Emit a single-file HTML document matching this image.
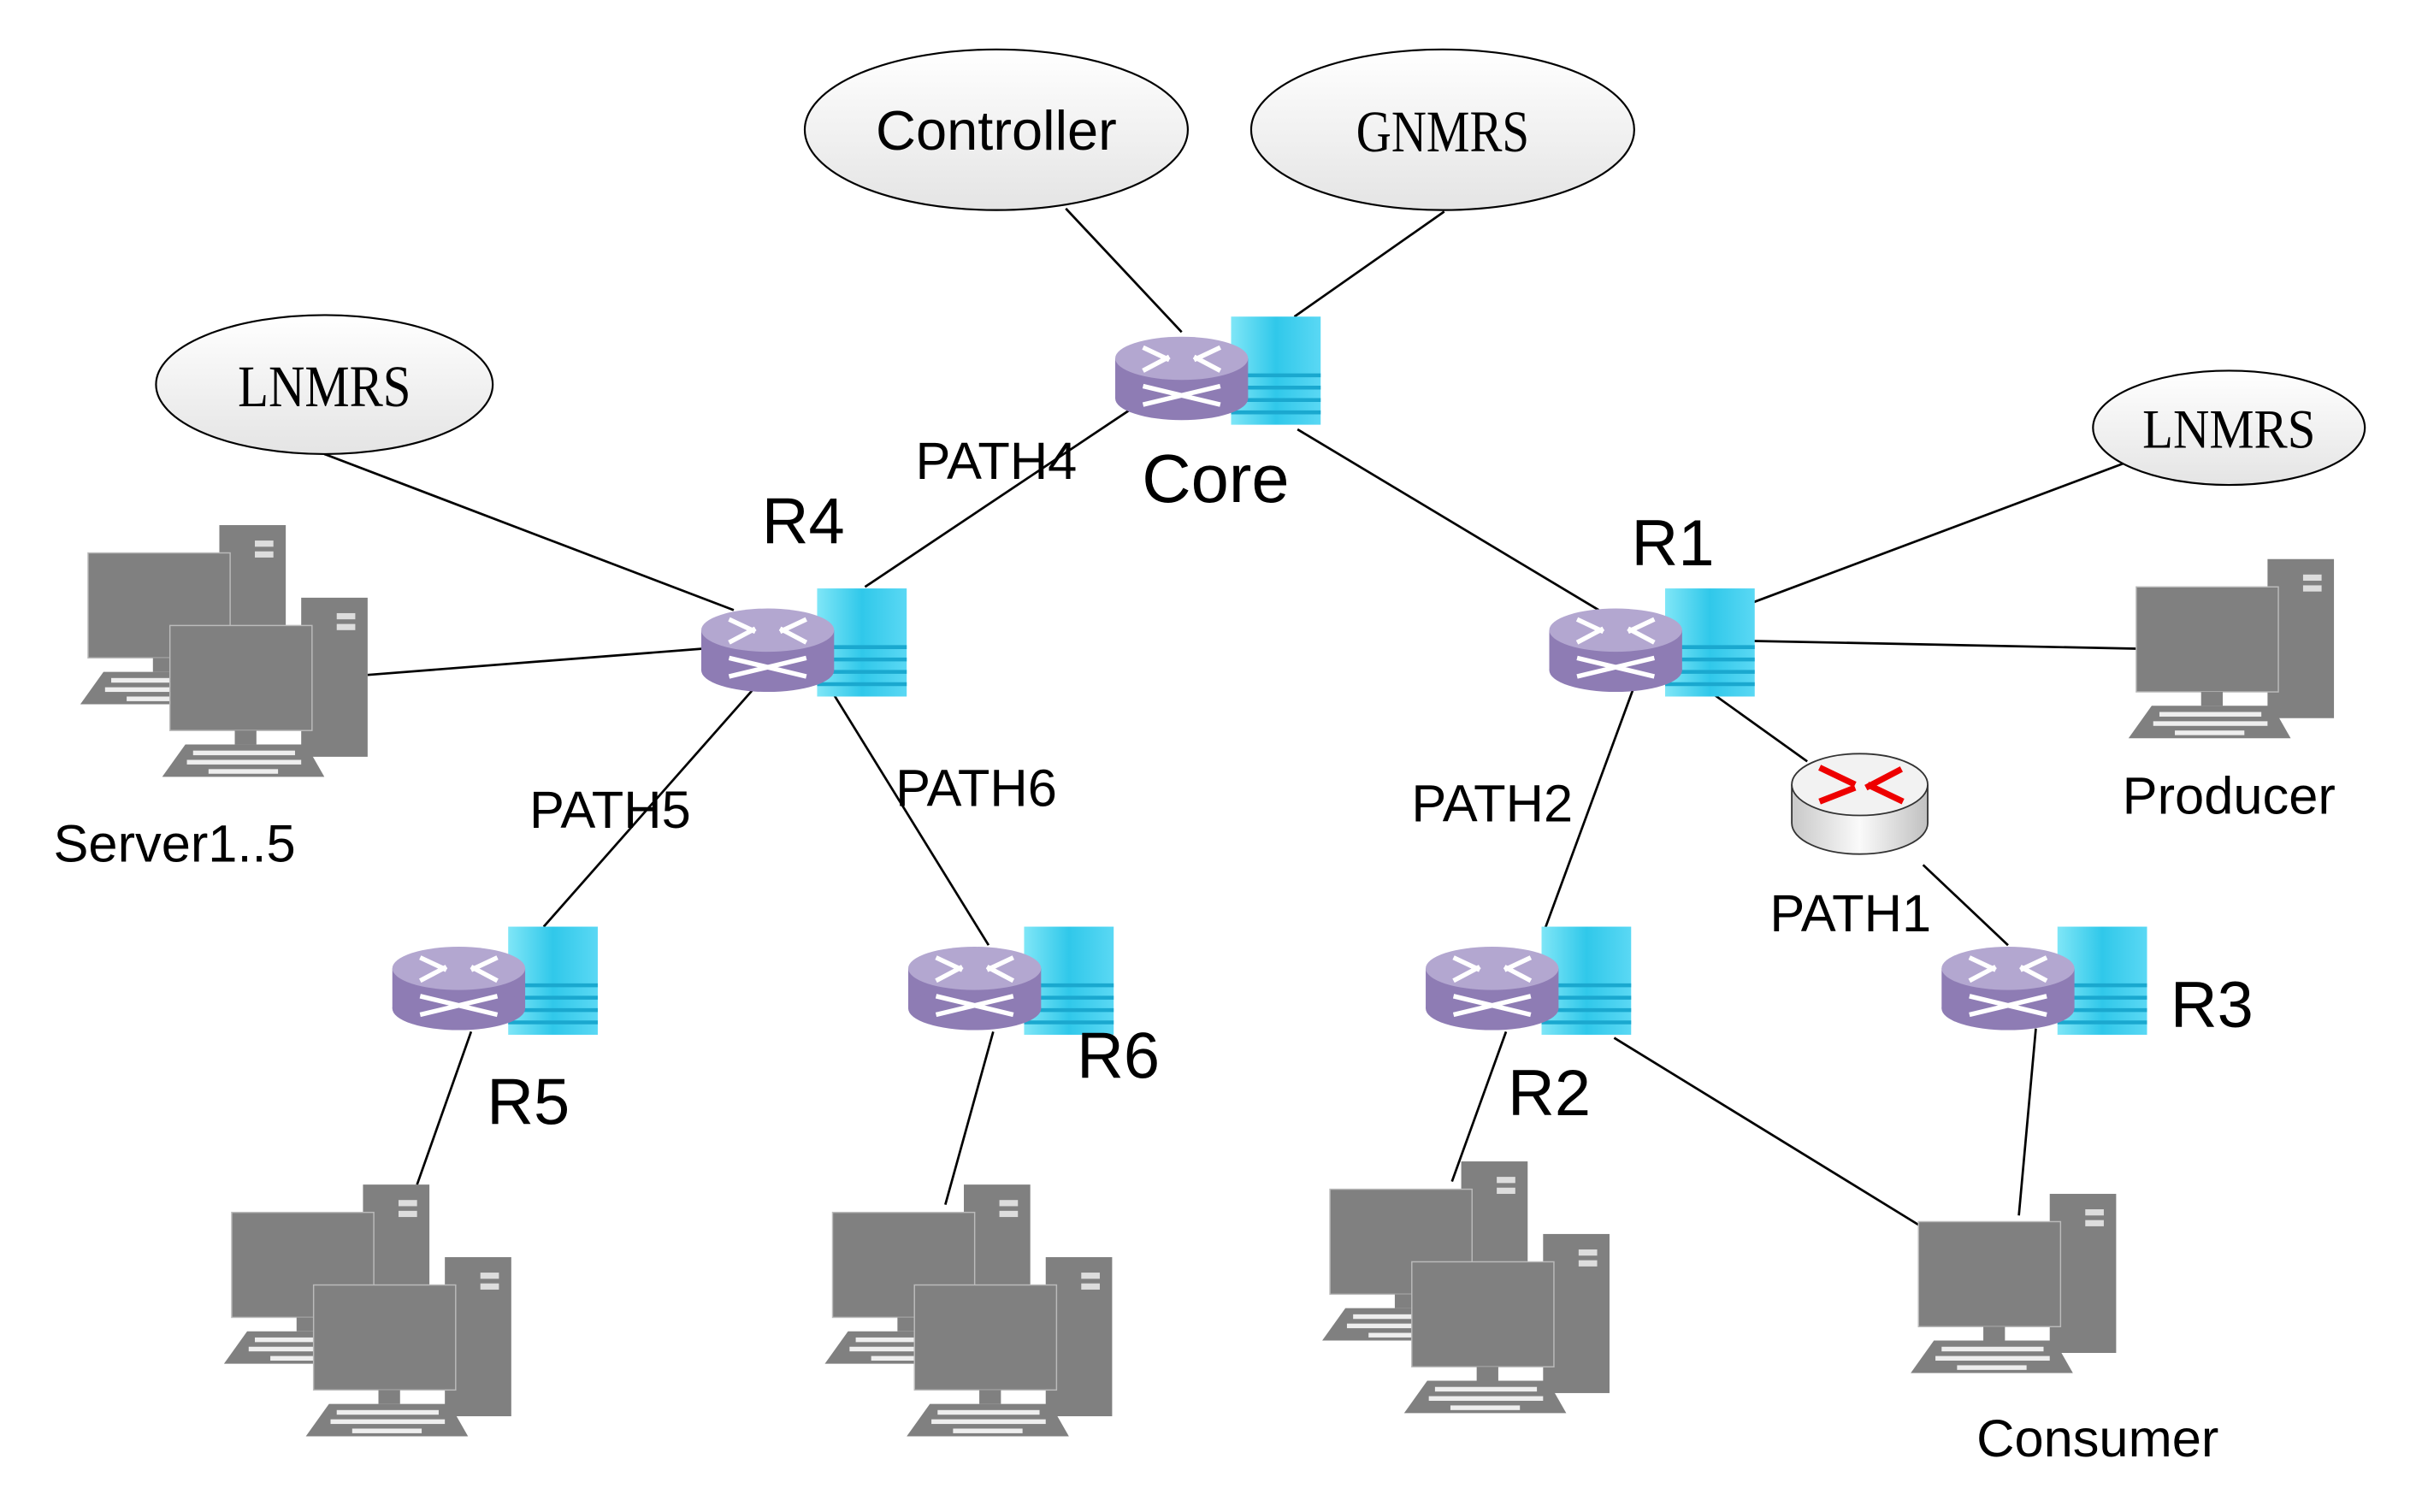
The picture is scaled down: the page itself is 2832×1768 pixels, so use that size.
<!DOCTYPE html>
<html><head><meta charset="utf-8"><style>html,body{margin:0;padding:0;background:#fff}svg{display:block}</style></head><body>
<svg width="2832" height="1768" viewBox="0 0 1568 979" preserveAspectRatio="none" xmlns="http://www.w3.org/2000/svg" font-family="Liberation Sans, sans-serif">
<defs>
<linearGradient id="el" x1="0" y1="0" x2="0" y2="1"><stop offset="0" stop-color="#fff"/><stop offset="1" stop-color="#e4e4e4"/></linearGradient>
<linearGradient id="cy" x1="0" y1="0" x2="1" y2="0"><stop offset="0" stop-color="#7fe6f7"/><stop offset="0.5" stop-color="#30c8ea"/><stop offset="1" stop-color="#5ad8f4"/></linearGradient>
<linearGradient id="gw" x1="0" y1="0" x2="1" y2="0"><stop offset="0" stop-color="#c8c8c8"/><stop offset="0.5" stop-color="#fafafa"/><stop offset="1" stop-color="#c0c0c0"/></linearGradient>
<g id="pc">
<rect x="85" y="0" width="43" height="103" fill="#808080"/>
<rect x="108" y="10" width="12" height="4" fill="#ddd"/><rect x="108" y="17" width="12" height="4" fill="#ddd"/>
<rect x="0" y="18" width="92" height="68" fill="#808080" stroke="#bbb" stroke-width="0.8"/>
<rect x="42" y="86" width="14" height="9" fill="#808080"/>
<polygon points="10,95 88,95 100,116 -5,116" fill="#808080"/>
<g fill="#eee"><rect x="15" y="99" width="66" height="3"/><rect x="11" y="105" width="74" height="3"/><rect x="25" y="111" width="45" height="3"/></g>
</g>
<g id="pc2"><use href="#pc"/><use href="#pc" x="53" y="47"/></g>
<g id="rt">
<rect x="32" y="-40" width="58" height="70" fill="url(#cy)"/>
<g stroke="#1aa8cf" stroke-width="2.5"><line x1="32" y1="-2" x2="90" y2="-2"/><line x1="32" y1="6" x2="90" y2="6"/><line x1="32" y1="14" x2="90" y2="14"/><line x1="32" y1="22" x2="90" y2="22"/></g>
<rect x="-43" y="-13" width="86" height="26" fill="#8e7cb4"/>
<ellipse cx="0" cy="13" rx="43" ry="14" fill="#8e7cb4"/>
<ellipse cx="0" cy="-13" rx="43" ry="14" fill="#b3a7d0"/>
<g stroke="#fff" stroke-width="3" fill="none"><path d="M-25,-20 L-8,-12 M25,-20 L8,-12 M-25,-5 L-8,-14 M25,-5 L8,-14"/><path d="M-25,5 L25,17 M-25,17 L25,5"/></g>
</g>
</defs>
<g stroke="#000" stroke-width="1.5">
<line x1="690" y1="135" x2="765" y2="215"/>
<line x1="935" y1="137" x2="838" y2="205"/>
<line x1="735" y1="263" x2="560" y2="380"/>
<line x1="840" y1="278" x2="1035" y2="395"/>
<line x1="210" y1="294" x2="475" y2="395"/>
<line x1="238" y1="437" x2="455" y2="420"/>
<line x1="487" y1="447" x2="352" y2="600"/>
<line x1="540" y1="450" x2="640" y2="612"/>
<line x1="1135" y1="390" x2="1375" y2="300"/>
<line x1="1135" y1="415" x2="1383" y2="420"/>
<line x1="1110" y1="450" x2="1170" y2="493"/>
<line x1="1245" y1="560" x2="1300" y2="612"/>
<line x1="1057" y1="447" x2="1000" y2="602"/>
<line x1="305" y1="668" x2="270" y2="767"/>
<line x1="643" y1="668" x2="612" y2="780"/>
<line x1="975" y1="668" x2="940" y2="765"/>
<line x1="1045" y1="672" x2="1242" y2="793"/>
<line x1="1318" y1="666" x2="1307" y2="787"/>
</g>
<g fill="url(#el)" stroke="#000" stroke-width="1.2">
<ellipse cx="645" cy="84" rx="124" ry="52"/>
<ellipse cx="934" cy="84" rx="124" ry="52"/>
<ellipse cx="210" cy="249" rx="109" ry="45"/>
<ellipse cx="1443" cy="277" rx="88" ry="37"/>
</g>
<use href="#pc2" x="57" y="340"/>
<use href="#pc2" x="150" y="767"/>
<use href="#pc2" x="539" y="767"/>
<use href="#pc2" x="861" y="752"/>
<use href="#pc" x="1242" y="773"/>
<use href="#pc" x="1383" y="362"/>
<use href="#rt" x="765" y="245"/>
<use href="#rt" x="497" y="421"/>
<use href="#rt" x="1046" y="421"/>
<use href="#rt" x="297" y="640"/>
<use href="#rt" x="631" y="640"/>
<use href="#rt" x="966" y="640"/>
<use href="#rt" x="1300" y="640"/>
<g transform="translate(6,0)">
<g stroke="#333" stroke-width="1">
<rect x="1154" y="508" width="88" height="25" fill="url(#gw)" stroke="none"/>
<path d="M1154,508 L1154,533 A44,20 0 0 0 1242,533 L1242,508" fill="url(#gw)"/>
<ellipse cx="1198" cy="508" rx="44" ry="20" fill="#f2f2f2"/>
</g>
<g stroke="#e00" stroke-width="4" fill="none"><path d="M1172,497 L1195,508 M1225,498 L1202,510 M1172,519 L1195,510 M1226,519 L1203,508"/></g>
</g>
<g fill="#000" text-anchor="middle">
<text x="645" y="97" font-size="36">Controller</text>
<text x="934" y="98" font-size="38" font-family="Liberation Serif, serif" textLength="112" lengthAdjust="spacingAndGlyphs">GNMRS</text>
<text x="210" y="263" font-size="38" font-family="Liberation Serif, serif" textLength="112" lengthAdjust="spacingAndGlyphs">LNMRS</text>
<text x="1443" y="290" font-size="36" font-family="Liberation Serif, serif" textLength="112" lengthAdjust="spacingAndGlyphs">LNMRS</text>
<text x="787" y="325" font-size="44">Core</text>
<text x="520" y="352" font-size="42">R4</text>
<text x="1083" y="366" font-size="42">R1</text>
<text x="342" y="728" font-size="42">R5</text>
<text x="724" y="698" font-size="42">R6</text>
<text x="1003" y="722" font-size="42">R2</text>
<text x="1432" y="665" font-size="42">R3</text>
<text x="645" y="310" font-size="34">PATH4</text>
<text x="395" y="536" font-size="34">PATH5</text>
<text x="632" y="522" font-size="34">PATH6</text>
<text x="966" y="532" font-size="34">PATH2</text>
<text x="1198" y="603" font-size="34">PATH1</text>
<text x="113" y="558" font-size="34">Server1..5</text>
<text x="1443" y="527" font-size="34">Producer</text>
<text x="1358" y="943" font-size="34">Consumer</text>
</g>
</svg>
</body></html>
